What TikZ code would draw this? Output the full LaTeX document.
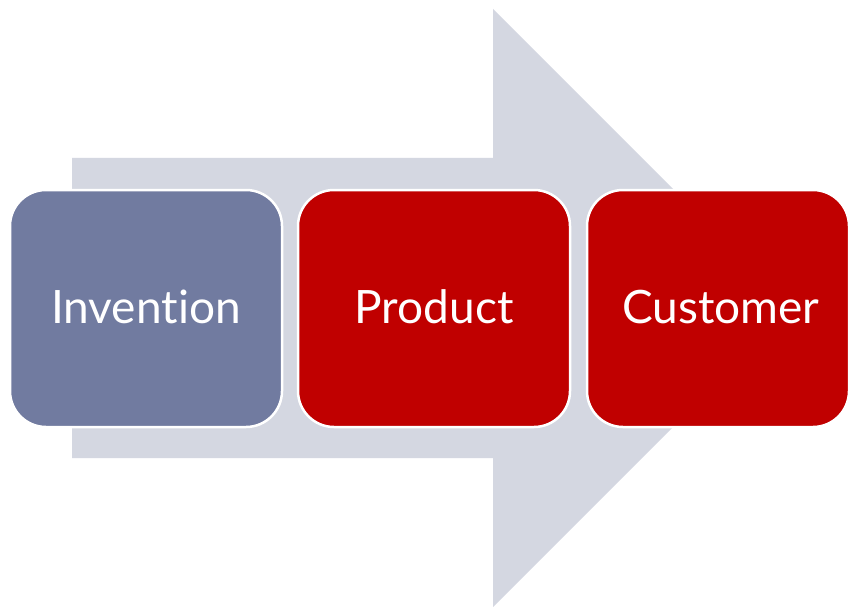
\documentclass[tikz,border=0pt]{standalone}
\usepackage{fontspec}
\setmainfont[Ligatures={NoCommon,NoRare,NoDiscretionary}]{Lato}
\definecolor{arrowgray}{HTML}{D4D7E1}
\definecolor{bluegray}{HTML}{717BA0}
\definecolor{boxred}{HTML}{C00000}
\begin{document}
\begin{tikzpicture}[x=1pt,y=-1pt,
  stagebox/.style={draw=white, line width=2.5pt, rounded corners=36pt,
    minimum width=272pt, minimum height=237pt, inner sep=0pt,
    text=white, font=\fontsize{46}{50}\selectfont},
]
\useasboundingbox (0,0) rectangle (849,607);
\fill[white] (0,0) rectangle (849,607);
% big arrow
\fill[arrowgray] (72,158) -- (493,158) -- (493,9) -- (792,308) -- (493,607) -- (493,458) -- (72,458) -- cycle;
\node[stagebox, fill=bluegray] (inv) at (146,308.5) {\raisebox{3pt}{Invention}};
\node[stagebox, fill=boxred] (prod) at (434,308.5) {\raisebox{3pt}{Product}};
\node[stagebox, fill=boxred, minimum width=262pt] (cust) at (718,308.5) {\raisebox{3pt}{\hspace{6pt}Customer}};
\end{tikzpicture}
\end{document}
